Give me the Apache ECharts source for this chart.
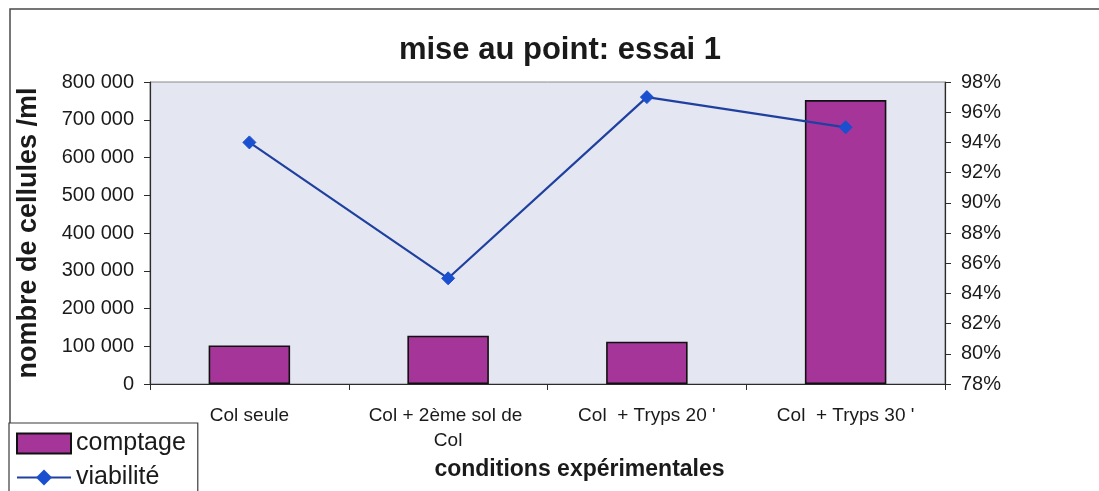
<!DOCTYPE html>
<html>
<head>
<meta charset="utf-8">
<script src="https://cdn.jsdelivr.net/npm/echarts@6/dist/echarts.min.js"></script>
<style>
  html, body { margin: 0; padding: 0; background: #ffffff; }
  #chart { width: 1099px; height: 491px; }
</style>
</head>
<body>
<div id="chart"></div>
<script>
// Experimental conditions on the category axis
const categories = ['Col seule', 'Col + 2ème sol de Col', 'Col  + Tryps 20 \'', 'Col  + Tryps 30 \''];
// Cell count per ml (bars, left axis)
const comptage = [102000, 128000, 112000, 752000];
// Viability in percent (line, right axis)
const viabilite = [94, 85, 97, 95];

const FONT = '"Liberation Sans", Arial, sans-serif';
const AXIS_COLOR = '#2b2b2b';

function spaced(v) {
  return String(v).replace(/\B(?=(\d{3})+(?!\d))/g, ' ');
}

const chart = echarts.init(document.getElementById('chart'), null, { renderer: 'canvas' });

chart.setOption({
  animation: false,
  backgroundColor: '#ffffff',
  textStyle: { fontFamily: FONT, color: '#1a1a1a' },
  title: {
    text: 'mise au point: essai 1',
    left: 555,
    top: 30,
    textAlign: 'center',
    textStyle: { fontFamily: FONT, fontSize: 31, fontWeight: 'bold', color: '#1a1a1a' }
  },
  graphic: [
    {
      type: 'polyline',
      silent: true,
      shape: { points: [[10, 500], [10, 9], [1110, 9]] },
      style: { stroke: '#4a4a4a', lineWidth: 1.5, fill: null }
    }
  ],
  legend: {
    orient: 'vertical',
    left: 9,
    top: 423,
    height: 120,
    padding: [8, 12, 12, 7],
    itemGap: 9,
    itemWidth: 54,
    itemHeight: 20,
    backgroundColor: '#ffffff',
    borderColor: '#3a3a3a',
    borderWidth: 1.2,
    textStyle: { fontFamily: FONT, fontSize: 25, color: '#1a1a1a' },
    data: [
      { name: 'comptage', icon: 'rect' },
      { name: 'viabilité' }
    ]
  },
  grid: {
    left: 150,
    right: 154,
    top: 82,
    bottom: 107,
    show: true,
    backgroundColor: '#e4e7f1',
    borderColor: '#8a8a8a',
    borderWidth: 1
  },
  xAxis: {
    type: 'category',
    data: categories,
    name: 'conditions expérimentales',
    nameLocation: 'middle',
    nameGap: 71,
    nameTextStyle: { fontFamily: FONT, fontSize: 23, fontWeight: 'bold', color: '#1a1a1a', padding: [0, 0, 0, 64] },
    axisLine: { lineStyle: { color: AXIS_COLOR, width: 1.2 } },
    axisTick: { show: true, length: 6, lineStyle: { color: AXIS_COLOR } },
    axisLabel: {
      fontFamily: FONT, fontSize: 19, color: '#1a1a1a', margin: 19,
      width: 180, overflow: 'break', lineHeight: 25, interval: 0
    },
    splitLine: { show: false }
  },
  yAxis: [
    {
      type: 'value',
      min: 0,
      max: 800000,
      interval: 100000,
      name: 'nombre de cellules /ml',
      nameLocation: 'middle',
      nameGap: 108,
      nameTextStyle: { fontFamily: FONT, fontSize: 27, fontWeight: 'bold', color: '#1a1a1a' },
      axisLine: { show: true, lineStyle: { color: AXIS_COLOR, width: 1.2 } },
      axisTick: { show: true, length: 6, lineStyle: { color: AXIS_COLOR } },
      axisLabel: { fontFamily: FONT, fontSize: 20, color: '#1a1a1a', margin: 16, formatter: spaced },
      splitLine: { show: false }
    },
    {
      type: 'value',
      min: 78,
      max: 98,
      interval: 2,
      position: 'right',
      axisLine: { show: true, lineStyle: { color: AXIS_COLOR, width: 1.2 } },
      axisTick: { show: true, length: 6, lineStyle: { color: AXIS_COLOR } },
      axisLabel: { fontFamily: FONT, fontSize: 20, color: '#1a1a1a', margin: 16, formatter: '{value}%' },
      splitLine: { show: false }
    }
  ],
  series: [
    {
      name: 'comptage',
      type: 'bar',
      yAxisIndex: 0,
      barWidth: '41%',
      data: comptage,
      itemStyle: { color: '#a6359a', borderColor: '#111111', borderWidth: 1.6 },
      z: 2
    },
    {
      name: 'viabilité',
      type: 'line',
      yAxisIndex: 1,
      data: viabilite,
      symbol: 'diamond',
      symbolSize: 13,
      lineStyle: { color: '#20409f', width: 2.2 },
      itemStyle: { color: '#1a4fcf', borderColor: '#1a4fcf' },
      z: 3
    }
  ]
});
</script>
</body>
</html>
